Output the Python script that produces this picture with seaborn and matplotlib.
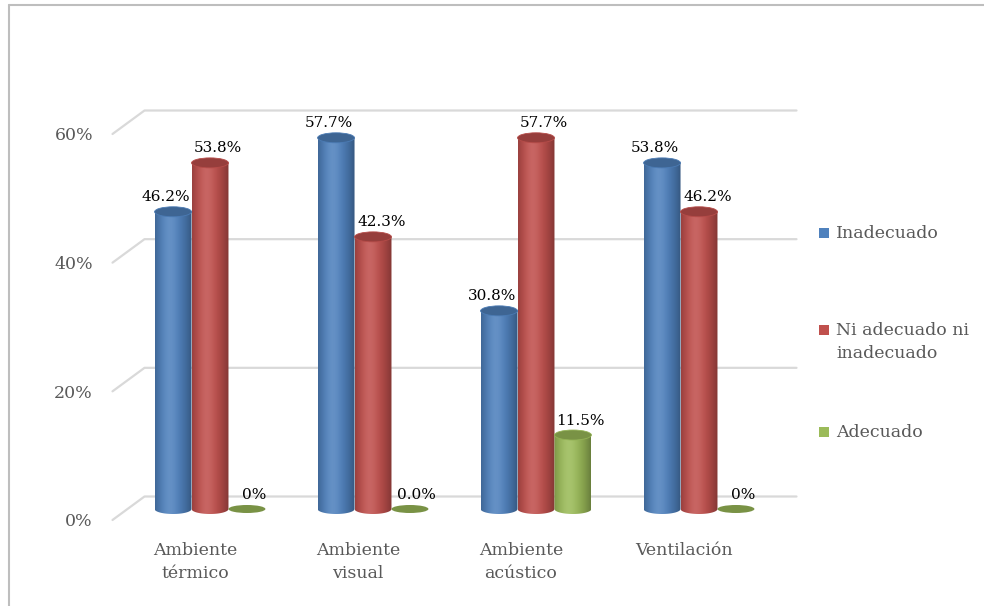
import numpy as np
import pandas as pd
import seaborn as sns
import matplotlib
matplotlib.use("Agg")
import matplotlib.pyplot as plt
import matplotlib.colors as mcolors
from matplotlib.patches import Ellipse, PathPatch, Rectangle
from matplotlib.path import Path
from matplotlib.lines import Line2D
from matplotlib.transforms import ScaledTranslation, blended_transform_factory

# ---- data -------------------------------------------------------------
categories = ["Ambiente\ntérmico", "Ambiente\nvisual", "Ambiente\nacústico", "Ventilación"]
series = ["Inadecuado", "Ni adecuado ni\ninadecuado", "Adecuado"]
inadecuado = [46.2, 57.7, 30.8, 53.8]
ni_adecuado = [53.8, 42.3, 57.7, 46.2]
adecuado = [0.0, 0.0, 11.5, 0.0]
label_decimals = [[1, 1, 1, 1], [1, 1, 1, 1], [0, 1, 1, 0]]
colors = ["#4F81BD", "#C0504D", "#9BBB59"]
yticks = [0, 20, 40, 60]

df = pd.DataFrame({
    "categoria": categories * 3,
    "serie": [s for s in series for _ in categories],
    "valor": inadecuado + ni_adecuado + adecuado,
})

# ---- figure -----------------------------------------------------------
W, H, DPI = 984, 606, 100
sns.set_theme(style="white")
plt.rcParams["font.family"] = ["DejaVu Serif"]
fig = plt.figure(figsize=(W / DPI, H / DPI), dpi=DPI)
ax_left, ax_right, ax_bottom, ax_top = 128.5, 780.5, 509.0, 123.0
ax = fig.add_axes([ax_left / W, 1 - ax_bottom / H,
                   (ax_right - ax_left) / W, (ax_bottom - ax_top) / H])

sns.barplot(data=df, x="categoria", y="valor", hue="serie", hue_order=series,
            palette=colors, width=0.68, ax=ax, legend=False, saturation=1)
ax.set_ylim(0, 60)
ax.set_xlim(-0.5, len(categories) - 0.5)
ax.set_axis_off()

px_per_unit = (ax_bottom - ax_top) / 60.0
ax_w_px = ax_right - ax_left
GRID = "#D9D9D9"
TEXT = "#595959"

# ---- 3D-style floor/back wall grid -------------------------------------
ytrans = ax.get_yaxis_transform()
fx, fy = 16 / ax_w_px, 11 / px_per_unit   # toward the viewer
bx, by = 16 / ax_w_px, 12.5 / px_per_unit  # toward the back wall
for v in yticks:
    ax.add_line(Line2D([-fx, bx, 1 + bx], [v - fy, v + by, v + by],
                       transform=ytrans, color=GRID, lw=1.6,
                       clip_on=False, zorder=0))
    ax.text(0, v, f"{v}%", transform=ytrans +
            ScaledTranslation(-35.5 / DPI, -13 / DPI, fig.dpi_scale_trans),
            ha="right", va="center", fontsize=12.5, color=TEXT)

# ---- category labels ---------------------------------------------------
xtrans = blended_transform_factory(ax.transData, ax.transAxes)
for i, cat in enumerate(categories):
    ax.text(i, 0, cat, transform=xtrans +
            ScaledTranslation(-15 / DPI, -33 / DPI, fig.dpi_scale_trans),
            ha="center", va="top", fontsize=12.5, color=TEXT, linespacing=1.45)


# ---- cylinder rendering -----------------------------------------------
def shade_profile(rgb, n=64):
    t = np.linspace(0, 1, n)
    dark = np.where(t < 0.4, 0.2 * ((0.4 - t) / 0.4) ** 2,
                    0.32 * ((t - 0.4) / 0.6) ** 2)
    light = 0.12 * np.exp(-((t - 0.4) / 0.22) ** 2)
    base = np.array(rgb)
    cols = base[None, :] * (1 - dark[:, None])
    cols = cols + (1 - cols) * light[:, None]
    rgba = np.ones((1, n, 4))
    rgba[0, :, :3] = np.clip(cols, 0, 1)
    return rgba


top_h = 10 / px_per_unit
flat_h = 8 / px_per_unit
label_dx = [-5, 6, 5]
all_values = [inadecuado, ni_adecuado, adecuado]

for k, container in enumerate(ax.containers):
    rgb = mcolors.to_rgb(colors[k])
    top_col = tuple(c * 0.78 for c in rgb)
    for j, bar in enumerate(container.patches):
        bar.set_visible(False)
        x0, w, h = bar.get_x(), bar.get_width(), bar.get_height()
        xc = x0 + w / 2
        if h > 0:
            theta = np.linspace(np.pi, 2 * np.pi, 40)
            verts = [(x0, h), (x0, 0)]
            verts += list(zip(xc + w / 2 * np.cos(theta), top_h / 2 * np.sin(theta)))
            verts += [(x0 + w, h), (x0, h)]
            codes = [Path.MOVETO] + [Path.LINETO] * (len(verts) - 2) + [Path.CLOSEPOLY]
            clip = PathPatch(Path(verts, codes), transform=ax.transData,
                             facecolor="none", edgecolor="none", clip_on=False)
            ax.add_patch(clip)
            im = ax.imshow(shade_profile(rgb), extent=[x0, x0 + w, -top_h / 2, h],
                           aspect="auto", interpolation="bilinear", zorder=2)
            im.set_clip_box(fig.bbox)
            im.set_clip_path(clip)
            ax.add_patch(Ellipse((xc, h), w, top_h, facecolor=top_col,
                                 edgecolor=tuple(min(1, c * 0.95) for c in rgb),
                                 lw=0.6, zorder=3, clip_on=False))
        else:
            ax.add_patch(Ellipse((xc, 0), w, flat_h, facecolor=top_col,
                                 edgecolor="none", zorder=3, clip_on=False))
        val = all_values[k][j]
        ax.annotate(f"{val:.{label_decimals[k][j]}f}%", (xc, val),
                    xytext=(label_dx[k], 7.5), textcoords="offset points",
                    ha="center", va="baseline", fontsize=11, color="black",
                    zorder=4, annotation_clip=False)

ax.set_ylim(0, 60)
ax.set_xlim(-0.5, len(categories) - 0.5)

# ---- legend (square key aligned with the first text line) ---------------
legend_rows = [233, 330, 432]
for col, name, yrow in zip(colors, series, legend_rows):
    fig.add_artist(Rectangle((819 / W, 1 - (yrow + 5) / H), 10 / W, 10 / H,
                             transform=fig.transFigure, facecolor=col,
                             edgecolor="none"))
    fig.text(836 / W, 1 - (yrow - 8) / H, name, ha="left", va="top",
             fontsize=12.5, color=TEXT, linespacing=1.45)

# ---- chart-area border (top and left edges) -----------------------------
fig.add_artist(Line2D([8.5 / W, 1], [1 - 4.5 / H, 1 - 4.5 / H],
                      transform=fig.transFigure, color="#BEBEBE", lw=1.5))
fig.add_artist(Line2D([8.5 / W, 8.5 / W], [0, 1 - 4.5 / H],
                      transform=fig.transFigure, color="#BEBEBE", lw=1.5))

fig.savefig("out.png", dpi=DPI, facecolor="white")
